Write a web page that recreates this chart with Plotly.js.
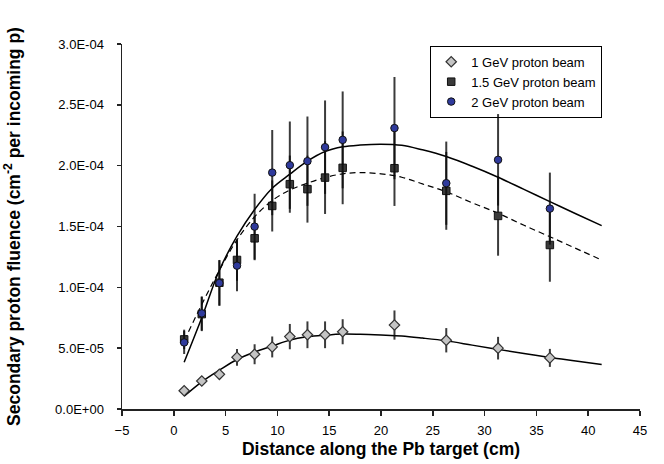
<!DOCTYPE html>
<html>
<head>
<meta charset="utf-8">
<script src="https://cdn.plot.ly/plotly-3.0.1.min.js"></script>
<style>
  html, body { margin: 0; padding: 0; background: #ffffff; }
  #chart { width: 664px; height: 464px; }
</style>
</head>
<body>
<div id="chart"></div>
<script>
// Measurement positions along the target (cm)
var positions = [1, 2.7, 4.4, 6.1, 7.8, 9.5, 11.2, 12.9, 14.6, 16.3, 21.3, 26.3, 31.3, 36.3];

// Secondary proton fluence (cm^-2 per incoming p)
var gev1  = [1.5e-5, 2.3e-5, 2.85e-5, 4.25e-5, 4.5e-5, 5.1e-5, 5.95e-5, 6.1e-5, 6.1e-5, 6.35e-5, 6.9e-5, 5.65e-5, 5.0e-5, 4.2e-5];
var gev1Err = [0.3e-5, 0.35e-5, 0.37e-5, 0.69e-5, 0.82e-5, 0.86e-5, 1.04e-5, 1.1e-5, 1.1e-5, 1.03e-5, 1.2e-5, 1.0e-5, 0.93e-5, 0.74e-5];

var gev15 = [5.72e-5, 7.8e-5, 10.38e-5, 12.25e-5, 14.03e-5, 16.69e-5, 18.48e-5, 18.07e-5, 19.02e-5, 19.82e-5, 19.79e-5, 17.93e-5, 15.87e-5, 13.48e-5];
var gev15Err = [0.8e-5, 1.4e-5, 1.87e-5, 1.7e-5, 1.8e-5, 2.1e-5, 2.35e-5, 2.75e-5, 2.99e-5, 2.99e-5, 3.1e-5, 3.2e-5, 3.27e-5, 3.02e-5];

var gev2  = [5.47e-5, 7.86e-5, 10.35e-5, 11.78e-5, 14.99e-5, 19.43e-5, 20.04e-5, 20.37e-5, 21.52e-5, 22.12e-5, 23.09e-5, 18.56e-5, 20.48e-5, 16.47e-5];
var gev2Err = [0.95e-5, 1.4e-5, 1.87e-5, 2.1e-5, 2.7e-5, 3.5e-5, 3.59e-5, 3.67e-5, 3.84e-5, 3.98e-5, 4.2e-5, 3.42e-5, 3.76e-5, 2.96e-5];

// Fitted curves
var fitX   = [1, 2.7, 4.4, 6.1, 7.8, 9.5, 11.2, 12.9, 14.6, 16.3, 18, 20, 22, 24, 26.3, 28.8, 31.3, 33.8, 36.3, 38.8, 41.3];
var fit1   = [1.05e-5, 2.23e-5, 3.19e-5, 4.07e-5, 4.68e-5, 5.17e-5, 5.66e-5, 5.93e-5, 6.07e-5, 6.16e-5, 6.14e-5, 6.08e-5, 6.0e-5, 5.83e-5, 5.6e-5, 5.25e-5, 4.9e-5, 4.57e-5, 4.24e-5, 3.95e-5, 3.66e-5];
var fit15  = [5.6e-5, 8.6e-5, 11.4e-5, 13.9e-5, 15.8e-5, 17.13e-5, 18.0e-5, 18.56e-5, 19.02e-5, 19.33e-5, 19.43e-5, 19.33e-5, 19.05e-5, 18.5e-5, 17.85e-5, 16.95e-5, 16.09e-5, 15.1e-5, 14.16e-5, 13.2e-5, 12.25e-5];
var fit2   = [3.85e-5, 7.5e-5, 11.4e-5, 14.2e-5, 16.4e-5, 18.15e-5, 19.3e-5, 20.37e-5, 21.16e-5, 21.55e-5, 21.7e-5, 21.77e-5, 21.68e-5, 21.3e-5, 20.75e-5, 19.95e-5, 19.05e-5, 18.05e-5, 17.05e-5, 16.05e-5, 15.07e-5];

// Series names and tick labels
var seriesNames = ['1 GeV proton beam', '1.5 GeV proton beam', '2 GeV proton beam'];
var yTickVals = [0, 5e-5, 1e-4, 1.5e-4, 2e-4, 2.5e-4, 3e-4];
var yTickText = ['0.0E+00', '5.0E-05', '1.0E-04', '1.5E-04', '2.0E-04', '2.5E-04', '3.0E-04'];

var FONT = 'Arial, "Liberation Sans", sans-serif';
var barColor = 'rgba(10,10,10,0.8)';

var traces = [
  { x: fitX, y: fit1, mode: 'lines', line: { color: '#000', width: 1.5, shape: 'spline' }, showlegend: false, hoverinfo: 'skip' },
  { x: fitX, y: fit15, mode: 'lines', line: { color: '#000', width: 1.2, dash: '6px,4px', shape: 'spline' }, showlegend: false, hoverinfo: 'skip' },
  { x: fitX, y: fit2, mode: 'lines', line: { color: '#000', width: 1.5, shape: 'spline' }, showlegend: false, hoverinfo: 'skip' },
  {
    x: positions, y: gev1, name: seriesNames[0], mode: 'markers',
    error_y: { type: 'data', array: gev1Err, visible: true, color: barColor, thickness: 2, width: 0 },
    marker: { symbol: 'diamond', size: 8, color: '#c4c4c4', line: { color: '#333', width: 1.2 } }
  },
  {
    x: positions, y: gev15, name: seriesNames[1], mode: 'markers',
    error_y: { type: 'data', array: gev15Err, visible: true, color: barColor, thickness: 2, width: 0 },
    marker: { symbol: 'square', size: 7.5, color: '#3a3a3a', line: { color: '#111', width: 1 } }
  },
  {
    x: positions, y: gev2, name: seriesNames[2], mode: 'markers',
    error_y: { type: 'data', array: gev2Err, visible: true, color: barColor, thickness: 2, width: 0 },
    marker: { symbol: 'circle', size: 7.5, color: '#2f3a9c', line: { color: '#111', width: 1 } }
  }
];

var layout = {
  width: 664, height: 464,
  margin: { l: 122, r: 24, t: 44, b: 55, pad: 0 },
  paper_bgcolor: '#fff', plot_bgcolor: '#fff',
  font: { family: FONT, size: 13, color: '#000' },
  showlegend: true,
  legend: {
    x: 0.595, xanchor: 'left', y: 0.995, yanchor: 'top',
    bgcolor: 'rgba(255,255,255,0)', bordercolor: '#000', borderwidth: 1,
    font: { family: FONT, size: 13, color: '#000' },
    traceorder: 'normal', tracegroupgap: 0,
    entrywidth: 150, entrywidthmode: 'pixels'
  },
  xaxis: {
    range: [-5, 45], tickmode: 'linear', tick0: -5, dtick: 5,
    showgrid: false, zeroline: false,
    showline: true, linecolor: '#222', linewidth: 1.5,
    ticks: 'outside', ticklen: 5, tickwidth: 1.5, tickcolor: '#222',
    ticklabelstandoff: 4,
    tickfont: { family: FONT, size: 13, color: '#000' },
    title: { text: 'Distance along the Pb target (cm)', font: { family: FONT, size: 17.5, color: '#000', weight: 'bold' }, standoff: 5 }
  },
  yaxis: {
    range: [0, 3e-4], tickvals: yTickVals, ticktext: yTickText,
    showgrid: false, zeroline: false,
    showline: true, linecolor: '#222', linewidth: 1.5,
    ticks: 'outside', ticklen: 4, tickwidth: 1.5, tickcolor: '#222',
    ticklabelstandoff: 10,
    tickfont: { family: FONT, size: 13, color: '#000' },
    title: { text: 'Secondary proton fluence (cm<sup>-2</sup> per incoming p)', font: { family: FONT, size: 17.5, color: '#000', weight: 'bold' }, standoff: 30 }
  }
};

Plotly.newPlot('chart', traces, layout, { displayModeBar: false, staticPlot: true });
</script>
</body>
</html>
